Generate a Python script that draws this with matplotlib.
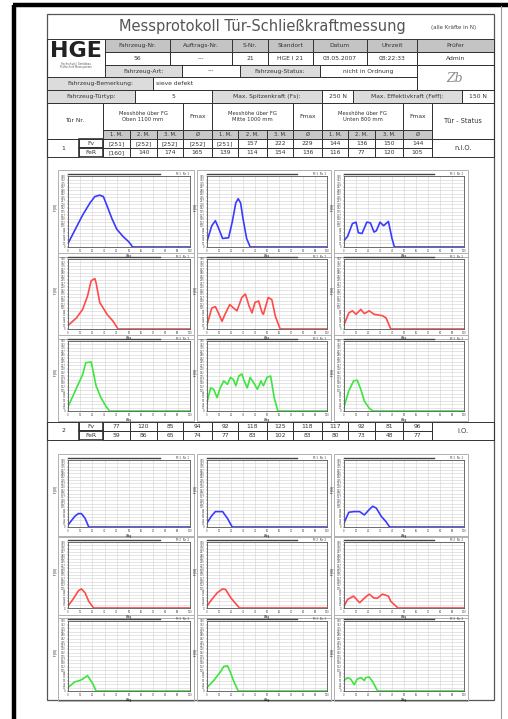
import matplotlib
matplotlib.use("Agg")
import matplotlib.pyplot as plt
from matplotlib.patches import Rectangle

W, H = 508, 719

# Kopfdaten
titel = "Messprotokoll Tür-Schließkraftmessung"
kopf_namen = ["Fahrzeug-Nr.", "Auftrags-Nr.", "S-Nr.", "Standort", "Datum", "Uhrzeit", "Prüfer"]
kopf_werte = ["56", "---", "21", "HGE I 21", "03.05.2007", "08:22:33", "Admin"]
fahrzeug_art = "---"
fahrzeug_status = "nicht in Ordnung"
bemerkung = "sieve defekt"
tuertyp = "5"
max_fs = "250 N"
max_feff = "150 N"

# Tabellenwerte (1.M, 2.M, 3.M, Ø je Messhöhe oben / mitte / unten)
hoehen = ["Messhöhe über FG\nOben 1100 mm", "Messhöhe über FG\nMitte 1000 mm", "Messhöhe über FG\nUnten 800 mm"]
t1_fv = ["[251]", "[252]", "[252]", "[252]", "[251]", "157", "222", "229", "144", "136", "150", "144"]
t1_feff = ["[160]", "140", "174", "165", "139", "114", "154", "136", "116", "77", "120", "105"]
t2_fv = ["77", "120", "85", "94", "92", "118", "125", "118", "117", "92", "81", "96"]
t2_feff = ["59", "86", "65", "74", "77", "83", "102", "83", "80", "73", "48", "77"]
status = ["n.i.O.", "i.O."]

# Kraftverläufe Tür 1 (x: Weg in %, y: Kraft in % Skala)
t1_m1_oben_x = [0, 6, 12, 18, 22, 26, 29, 32, 36, 40, 45, 50, 53, 100]
t1_m1_oben_y = [5, 25, 45, 62, 71, 73, 71, 58, 40, 25, 15, 7, 0, 0]
t1_m1_mitte_x = [0, 4, 7, 10, 13, 18, 21, 24, 26, 28, 30, 33, 36, 100]
t1_m1_mitte_y = [8, 30, 37, 25, 12, 13, 35, 62, 68, 62, 40, 12, 0, 0]
t1_m1_unten_x = [0, 3, 7, 10, 12, 15, 19, 22, 25, 27, 30, 33, 37, 40, 42, 100]
t1_m1_unten_y = [9, 15, 33, 35, 20, 19, 35, 34, 21, 23, 35, 30, 36, 12, 0, 0]
t1_m2_oben_x = [0, 7, 12, 16, 19, 22, 23, 26, 32, 37, 41, 100]
t1_m2_oben_y = [5, 16, 28, 47, 69, 72, 66, 38, 21, 11, 0, 0]
t1_m2_mitte_x = [0, 4, 7, 10, 12.5, 15, 19, 22, 25, 29, 32, 35, 37.5, 40, 43, 46, 47, 51, 54, 57, 61, 100]
t1_m2_mitte_y = [6, 30, 32, 21, 11, 21, 35, 30, 26, 45, 50, 33, 23, 38, 40, 23, 21, 45, 42, 18, 0, 0]
t1_m2_unten_x = [0, 4, 7, 10, 14, 17, 21, 25, 32, 35, 39, 100]
t1_m2_unten_y = [6, 23, 26, 21, 28, 22, 26, 21, 19, 16, 0, 0]
t1_m3_oben_x = [0, 6, 12, 14.6, 19, 20, 23, 27, 31, 34, 100]
t1_m3_oben_y = [6, 29, 52, 69, 70, 62, 36, 19, 7, 0, 0]
t1_m3_mitte_x = [0, 3, 5.6, 8.4, 11, 14, 17, 19.6, 22, 24, 26.5, 29, 31, 33.5, 36, 39, 42, 45, 47, 50, 53, 56, 59, 100]
t1_m3_mitte_y = [12, 33, 31, 19, 33, 43, 38, 48, 45, 36, 50, 53, 43, 33, 48, 40, 31, 43, 36, 48, 50, 19, 0, 0]
t1_m3_unten_x = [0, 4, 8, 11, 14, 17, 21, 24, 100]
t1_m3_unten_y = [6, 29, 43, 44, 31, 14, 4, 0, 0]

# Kraftverläufe Tür 2
t2_m1_oben_x = [0, 5.6, 8.5, 11, 14, 17, 100]
t2_m1_oben_y = [3, 16, 20, 20, 13, 0, 0]
t2_m1_mitte_x = [0, 4, 7, 13, 17, 21, 100]
t2_m1_mitte_y = [6, 17, 23, 23, 13, 0, 0]
t2_m1_unten_x = [0, 4, 8.5, 13, 17, 21, 24, 27, 31, 35, 38, 100]
t2_m1_unten_y = [6, 22, 23, 23, 18, 26, 31, 28, 16, 8, 0, 0]
t2_m2_oben_x = [0, 4, 8.5, 11, 14, 17, 21, 100]
t2_m2_oben_y = [3, 13, 26, 29, 23, 10, 0, 0]
t2_m2_mitte_x = [0, 4, 8.5, 13, 15.5, 20, 27, 100]
t2_m2_mitte_y = [3, 13, 23, 29, 28, 15, 0, 0]
t2_m2_unten_x = [0, 3, 8, 13, 17, 21, 25, 28, 32, 37, 39, 45, 100]
t2_m2_unten_y = [3, 13, 18, 8, 15, 21, 15, 15, 21, 18, 10, 0, 0]
t2_m3_oben_x = [0, 5.5, 9.6, 12, 16, 20.5, 23, 100]
t2_m3_oben_y = [5, 13, 15, 17, 22, 10, 0, 0]
t2_m3_mitte_x = [0, 5.6, 11, 14, 17, 19, 22, 26, 100]
t2_m3_mitte_y = [5, 15, 27, 35, 36, 29, 15, 0, 0]
t2_m3_unten_x = [0, 3, 5.6, 8.5, 11, 14, 17, 18, 21, 24, 28, 100]
t2_m3_unten_y = [15, 19, 17, 9, 17, 19, 15, 19, 20, 13, 0, 0]

farben = ["#3a3aff", "#ff4a4a", "#3ce63c"]

fig = plt.figure(figsize=(W / 100, H / 100), dpi=100)
bg = fig.add_axes([0, 0, 1, 1])
bg.set_xlim(0, W)
bg.set_ylim(H, 0)
bg.axis("off")

LINIE = "#333333"


def zelle(x0, y0, x1, y1, text="", fill=None, fs=4.3, ha="center", lw=0.7, weight="normal"):
    bg.add_patch(Rectangle((x0, y0), x1 - x0, y1 - y0, facecolor=fill if fill else "none",
                           edgecolor=LINIE, lw=lw))
    if text:
        tx = (x0 + x1) / 2 if ha == "center" else x0 + 3
        bg.text(tx, (y0 + y1) / 2, text, fontsize=fs, ha=ha, va="center", color="#333333",
                weight=weight, linespacing=1.1)


# Seitenrahmen
bg.plot([14, 14], [5, H], color="black", lw=3.2, solid_capstyle="butt")
bg.plot([13, W], [5, 5], color="black", lw=3.2, solid_capstyle="butt")
bg.plot([501, 501], [6, H], color="#999999", lw=0.8)
bg.add_patch(Rectangle((47, 14), 447, 686, facecolor="none", edgecolor="#555555", lw=0.9))

# Titel
bg.text(262, 27, titel, fontsize=10.5, ha="center", va="center", color="#555555")
bg.text(454, 28, "(alle Kräfte in N)", fontsize=4, ha="center", va="center", color="#444444")

# Kopfzeilen
kopf_x = [105, 170, 232, 268, 313, 367, 417, 494]
zelle(47, 39, 105, 77)
bg.text(76, 51, "HGE", fontsize=16, weight="bold", ha="center", va="center", color="#222222")
bg.text(76, 64, "Hochschule / Gerätebau", fontsize=1.8, ha="center", va="center", color="#555555")
bg.text(76, 67, "Prüftechnik Messsysteme", fontsize=1.8, ha="center", va="center", color="#555555")
for i in range(len(kopf_namen)):
    zelle(kopf_x[i], 39, kopf_x[i + 1], 52, kopf_namen[i], fill="#c4c4c4")
    zelle(kopf_x[i], 52, kopf_x[i + 1], 65, kopf_werte[i])
zelle(105, 65, 182, 77, "Fahrzeug-Art:", fill="#dcdcdc")
zelle(182, 65, 240, 77, fahrzeug_art)
zelle(240, 65, 320, 77, "Fahrzeug-Status:", fill="#dcdcdc")
zelle(320, 65, 417, 77, fahrzeug_status)
zelle(417, 65, 494, 90)
bg.text(455, 78, "Zb", fontsize=9, style="italic", ha="center", va="center", color="#8a8a8a", family="DejaVu Serif")
zelle(47, 77, 153, 90, "Fahrzeug-Bemerkung:", fill="#dcdcdc")
zelle(153, 77, 417, 90, bemerkung, ha="left")
zelle(47, 90, 135, 103, "Fahrzeug-Türtyp:", fill="#dcdcdc")
zelle(135, 90, 212, 103, tuertyp)
zelle(212, 90, 322, 103, "Max. Spitzenkraft (Fs):", fill="#dcdcdc")
zelle(322, 90, 353, 103, max_fs)
zelle(353, 90, 462, 103, "Max. Effektivkraft (Feff):", fill="#dcdcdc")
zelle(462, 90, 494, 103, max_feff)

# Tabellenkopf
spalten = [103, 130, 157, 183, 212, 238, 267, 293, 322, 348, 375, 403, 432, 494]
zelle(47, 103, 103, 139, "Tür Nr.")
for g in range(3):
    zelle(spalten[4 * g], 103, spalten[4 * g + 3], 130, hoehen[g], fs=3.8)
    zelle(spalten[4 * g + 3], 103, spalten[4 * g + 4], 130, "Fmax")
    for k, lab in enumerate(["1. M.", "2. M.", "3. M.", "Ø"]):
        zelle(spalten[4 * g + k], 130, spalten[4 * g + k + 1], 139, lab, fill="#c8c8c8", fs=3.8)
zelle(432, 103, 494, 139, "Tür - Status", fs=4.8)


def tuerzeile(y0, nr, fv, feff, st):
    zelle(47, y0, 79, y0 + 18, nr)
    zelle(79, y0, 103, y0 + 9, "Fv", lw=1.2)
    zelle(79, y0 + 9, 103, y0 + 18, "FeR", lw=1.2)
    for k in range(12):
        zelle(spalten[k], y0, spalten[k + 1], y0 + 9, fv[k])
        zelle(spalten[k], y0 + 9, spalten[k + 1], y0 + 18, feff[k])
    zelle(432, y0, 494, y0 + 18, st, fs=4.8)


tuerzeile(139, "1", t1_fv, t1_feff, status[0])
tuerzeile(422, "2", t2_fv, t2_feff, status[1])

# Diagramme
spalten_px = [(68, 190), (207, 327), (344, 464)]
zeilen_t1 = [(176, 247), (259, 329), (341, 411)]
zeilen_t2 = [(460, 527), (542, 608), (621, 691)]

kurven_t1 = [
    [(t1_m1_oben_x, t1_m1_oben_y), (t1_m1_mitte_x, t1_m1_mitte_y), (t1_m1_unten_x, t1_m1_unten_y)],
    [(t1_m2_oben_x, t1_m2_oben_y), (t1_m2_mitte_x, t1_m2_mitte_y), (t1_m2_unten_x, t1_m2_unten_y)],
    [(t1_m3_oben_x, t1_m3_oben_y), (t1_m3_mitte_x, t1_m3_mitte_y), (t1_m3_unten_x, t1_m3_unten_y)],
]
kurven_t2 = [
    [(t2_m1_oben_x, t2_m1_oben_y), (t2_m1_mitte_x, t2_m1_mitte_y), (t2_m1_unten_x, t2_m1_unten_y)],
    [(t2_m2_oben_x, t2_m2_oben_y), (t2_m2_mitte_x, t2_m2_mitte_y), (t2_m2_unten_x, t2_m2_unten_y)],
    [(t2_m3_oben_x, t2_m3_oben_y), (t2_m3_mitte_x, t2_m3_mitte_y), (t2_m3_unten_x, t2_m3_unten_y)],
]


def kleinplot(x0, x1, y0, y1, xs, ys, farbe, nr):
    bg.add_patch(Rectangle((x0 - 10, y0 - 6), x1 - x0 + 14, y1 - y0 + 16,
                           facecolor="none", edgecolor="#b0b0b0", lw=0.7))
    ax = fig.add_axes([x0 / W, 1 - y1 / H, (x1 - x0) / W, (y1 - y0) / H])
    ax.plot(xs, ys, color=farbe, lw=1.2)
    ax.set_xlim(0, 100)
    ax.set_ylim(0, 100)
    ax.set_xticks(range(0, 101, 10))
    ax.set_yticks(range(0, 101, 5))
    ax.set_xticklabels([str(v) for v in range(0, 101, 10)])
    ax.set_yticklabels([str(int(v * 3.5)) for v in range(0, 101, 5)])
    ax.grid(True, color="#d6d6d6", lw=0.45)
    ax.tick_params(labelsize=1.8, length=1, width=0.3, pad=0.6, colors="#444444")
    for s in ax.spines.values():
        s.set_color("#555555")
        s.set_linewidth(0.6)
    ax.plot([0, 0.75], [1.03, 1.03], transform=ax.transAxes, clip_on=False, color="#444444", lw=1.0)
    ax.text(0.99, 1.03, "M %d  Nr. %d" % (nr, nr), transform=ax.transAxes, fontsize=2,
            ha="right", va="center", color="#444444")
    ax.text(0.5, -0.13, "Weg", transform=ax.transAxes, fontsize=2, ha="center", va="center")
    ax.text(-0.1, 0.55, "F [N]", transform=ax.transAxes, fontsize=2, rotation=90, ha="center", va="center")


for zeilen, kurven in [(zeilen_t1, kurven_t1), (zeilen_t2, kurven_t2)]:
    for r, (y0, y1) in enumerate(zeilen):
        for c, (x0, x1) in enumerate(spalten_px):
            xs, ys = kurven[r][c]
            kleinplot(x0, x1, y0, y1, xs, ys, farben[r], r + 1)

fig.savefig("out.png", dpi=100)
